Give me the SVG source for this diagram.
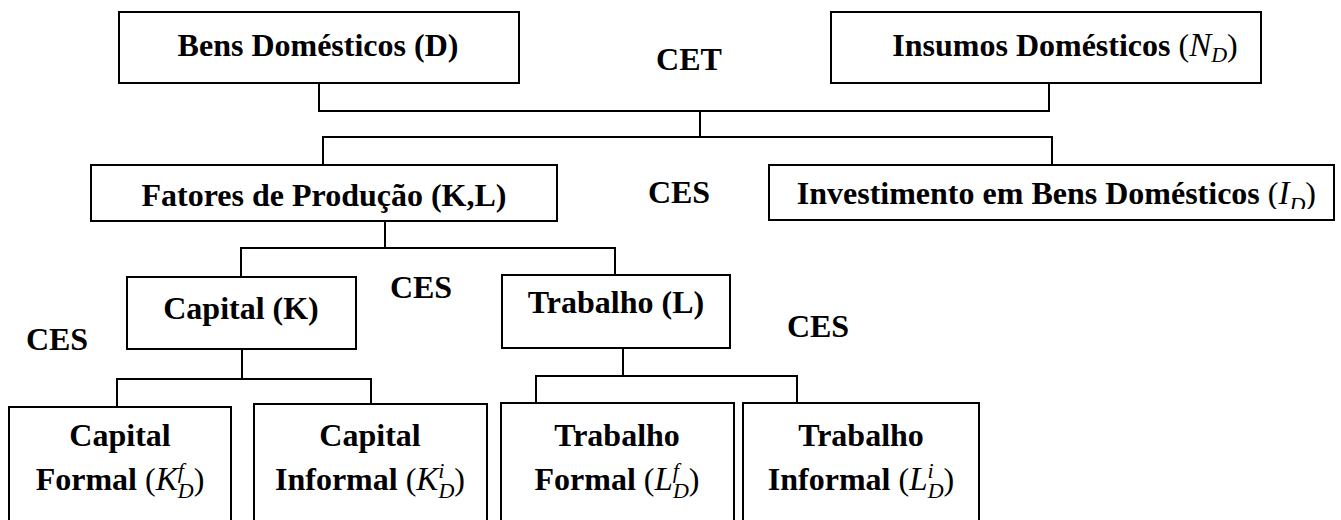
<svg xmlns="http://www.w3.org/2000/svg" width="1341" height="520" viewBox="0 0 1341 520">
<style>
.box{fill:#fff;stroke:#000;stroke-width:2}
.ln{fill:none;stroke:#000;stroke-width:2}
.t{font-family:"Liberation Serif","Times New Roman",serif;font-weight:bold;font-size:32px;fill:#000;text-anchor:middle}
.m{font-family:"Liberation Serif","Times New Roman",serif;font-style:italic;font-weight:normal;font-size:33px}
.p{font-weight:normal}
.s{font-size:22px}
</style>
<defs>
<clipPath id="clipInv"><rect x="770" y="166" width="563" height="43"/></clipPath>
</defs>
<g id="connectors">
<polyline class="ln" points="319,83 319,111 1049,111 1049,83"/>
<line class="ln" x1="700" y1="111" x2="700" y2="137"/>
<polyline class="ln" points="323,165 323,137 1052,137 1052,165"/>
<line class="ln" x1="385" y1="221" x2="385" y2="248"/>
<polyline class="ln" points="241,277 241,248 615,248 615,275"/>
<line class="ln" x1="242" y1="349" x2="242" y2="379"/>
<polyline class="ln" points="117,407 117,379 371,379 371,404"/>
<line class="ln" x1="623" y1="348" x2="623" y2="376"/>
<polyline class="ln" points="536,403 536,376 797,376 797,403"/>
</g>
<g id="bens">
<rect class="box" x="119" y="12" width="400" height="71"/>
<text class="t" x="318" y="56">Bens Domésticos (D)</text>
</g>
<g id="insumos">
<rect class="box" x="831" y="12" width="430" height="71"/>
<text class="t" x="1065" y="56">Insumos Domésticos <tspan class="p">(</tspan><tspan class="m">N</tspan><tspan class="m s" dy="6">D</tspan><tspan class="p" dy="-6">)</tspan></text>
</g>
<g id="labels">
<text class="t" x="689" y="70">CET</text>
<text class="t" x="679" y="203">CES</text>
<text class="t" x="421" y="298">CES</text>
<text class="t" x="57" y="350">CES</text>
<text class="t" x="818" y="337">CES</text>
</g>
<g id="fatores">
<rect class="box" x="91" y="165" width="466" height="56"/>
<text class="t" x="324" y="206">Fatores de Produção (K,L)</text>
</g>
<g id="investimento">
<rect class="box" x="769" y="165" width="565" height="55"/>
<text class="t" x="1316" y="204" style="text-anchor:end" clip-path="url(#clipInv)">Investimento em Bens Domésticos <tspan class="p">(</tspan><tspan class="m">I</tspan><tspan class="m s" dy="8">D</tspan><tspan class="p" dy="-8">)</tspan></text>
</g>
<g id="capital">
<rect class="box" x="127" y="277" width="229" height="72"/>
<text class="t" x="241" y="319">Capital (K)</text>
</g>
<g id="trabalho">
<rect class="box" x="502" y="275" width="228" height="73"/>
<text class="t" x="616" y="313">Trabalho (L)</text>
</g>
<g id="capital-formal">
<rect class="box" x="9" y="407" width="222" height="120"/>
<text class="t" x="120" y="446">Capital</text>
<text class="t" x="120" y="490">Formal <tspan class="p">(</tspan><tspan class="m">K</tspan><tspan class="m s" dy="-12">f</tspan><tspan class="m s" dx="-6" dy="20">D</tspan><tspan class="p" dy="-8">)</tspan></text>
</g>
<g id="capital-informal">
<rect class="box" x="254" y="404" width="233" height="123"/>
<text class="t" x="370" y="446">Capital</text>
<text class="t" x="370" y="490">Informal <tspan class="p">(</tspan><tspan class="m">K</tspan><tspan class="m s" dy="-12">i</tspan><tspan class="m s" dx="-6" dy="20">D</tspan><tspan class="p" dy="-8">)</tspan></text>
</g>
<g id="trabalho-formal">
<rect class="box" x="501" y="403" width="233" height="124"/>
<text class="t" x="617" y="446">Trabalho</text>
<text class="t" x="617" y="490">Formal <tspan class="p">(</tspan><tspan class="m">L</tspan><tspan class="m s" dy="-12">f</tspan><tspan class="m s" dx="-6" dy="20">D</tspan><tspan class="p" dy="-8">)</tspan></text>
</g>
<g id="trabalho-informal">
<rect class="box" x="743" y="403" width="236" height="124"/>
<text class="t" x="861" y="446">Trabalho</text>
<text class="t" x="861" y="490">Informal <tspan class="p">(</tspan><tspan class="m">L</tspan><tspan class="m s" dy="-12">i</tspan><tspan class="m s" dx="-6" dy="20">D</tspan><tspan class="p" dy="-8">)</tspan></text>
</g>
</svg>
